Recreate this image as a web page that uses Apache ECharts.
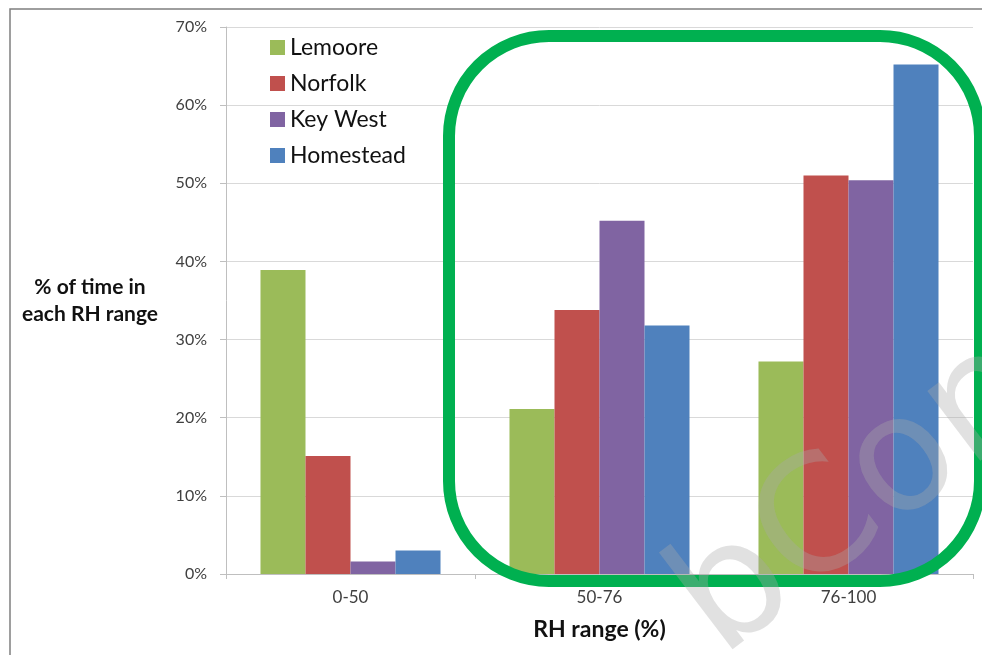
<!DOCTYPE html>
<html>
<head>
<meta charset="utf-8">
<script src="https://cdn.jsdelivr.net/npm/echarts@6/dist/echarts.min.js"></script>
<style>
  html, body { margin: 0; padding: 0; background: #fff; }
  #chart { width: 982px; height: 655px; }
</style>
</head>
<body>
<div id="chart"></div>
<script>
// RH ranges and share of time (%) per site
var categories = ['0-50', '50-76', '76-100'];
var lemoore = [38.9, 21.1, 27.2];
var norfolk = [15.1, 33.8, 51.0];
var keyWest = [1.6, 45.2, 50.4];
var homestead = [3.0, 31.8, 65.2];

var chart = echarts.init(document.getElementById('chart'));
var font = 'Lato, "Open Sans", sans-serif';

function bar(name, data, color) {
    return {
        name: name,
        type: 'bar',
        data: data,
        barGap: '0%',
        barCategoryGap: '27.7%',
        itemStyle: { color: color }
    };
}

var option = {
    animation: false,
    textStyle: { fontFamily: font },
    grid: { left: 226, right: 9, top: 27, bottom: 81 },
    legend: {
        orient: 'vertical',
        left: 265,
        top: 31,
        itemWidth: 15,
        itemHeight: 15,
        itemGap: 13,
        icon: 'rect',
        textStyle: { fontSize: 23, color: '#111', fontFamily: font }
    },
    xAxis: {
        type: 'category',
        data: categories,
        name: 'RH range (%)',
        nameLocation: 'middle',
        nameGap: 44,
        nameTextStyle: { fontSize: 23, fontWeight: 'bold', color: '#111' },
        axisLine: { lineStyle: { color: '#bfbfbf' } },
        axisTick: { show: true, length: 5, lineStyle: { color: '#bfbfbf' } },
        axisLabel: { fontSize: 17, color: '#404040', margin: 15 }
    },
    yAxis: {
        type: 'value',
        min: 0,
        max: 70,
        interval: 10,
        name: '% of time in\neach RH range',
        nameLocation: 'middle',
        nameRotate: 0,
        nameGap: 136,
        nameTextStyle: { fontSize: 21, fontWeight: 'bold', color: '#111', lineHeight: 27, align: 'center' },
        axisLine: { show: true, lineStyle: { color: '#bfbfbf' } },
        axisTick: { show: true, length: 6, lineStyle: { color: '#bfbfbf' } },
        axisLabel: { formatter: '{value}%', fontSize: 16, color: '#404040', margin: 19 },
        splitLine: { lineStyle: { color: '#d9d9d9' } }
    },
    series: [
        bar('Lemoore', lemoore, '#9bbb59'),
        bar('Norfolk', norfolk, '#c0504d'),
        bar('Key West', keyWest, '#8064a2'),
        bar('Homestead', homestead, '#4f81bd')
    ],
    graphic: [
        {
            type: 'rect',
            silent: true,
            shape: { x: 10, y: 9, width: 990, height: 660 },
            style: { fill: 'none', stroke: '#7f7f7f', lineWidth: 1.5 }
        },
        {
            type: 'rect',
            silent: true,
            z: 100,
            shape: { x: 449, y: 36, width: 531, height: 545, r: 100 },
            style: { fill: 'none', stroke: '#00b050', lineWidth: 12 }
        },
        {
            type: 'text',
            silent: true,
            z: 101,
            x: 860,
            y: 500,
            rotation: 0.65,
            style: {
                text: 'bCon',
                font: '160px "DejaVu Sans", sans-serif',
                fill: 'rgba(170,170,170,0.35)',
                align: 'center',
                verticalAlign: 'middle'
            }
        }
    ]
};

chart.setOption(option, true);
</script>
</body>
</html>
